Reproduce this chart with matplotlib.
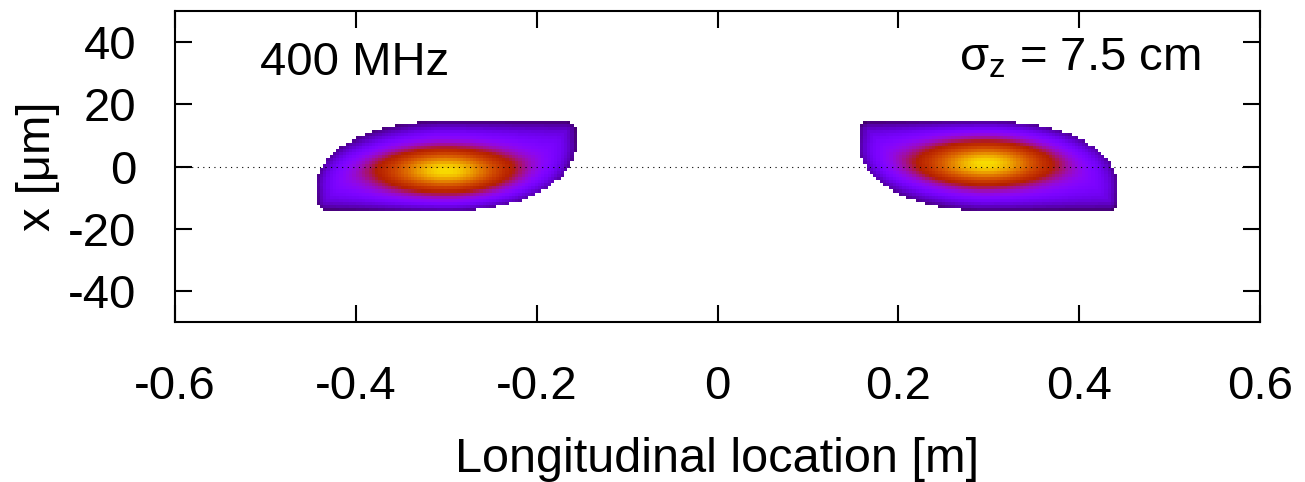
import numpy as np
import matplotlib
matplotlib.use("Agg")
import matplotlib.pyplot as plt

plt.rcParams["font.family"] = ["Liberation Sans", "DejaVu Sans"]
plt.rcParams["mathtext.fontset"] = "custom"
plt.rcParams["mathtext.rm"] = "Liberation Sans"
plt.rcParams["mathtext.it"] = "Liberation Sans"
plt.rcParams["axes.unicode_minus"] = False
plt.rcParams["font.size"] = 34

## bunch parameters (second bunch is the mirror image in z)

bunch_z = [-0.300, 0.300]      # centre of each bunch [m]
bunch_dir = [1, -1]            # orientation along z
core_z = [-0.301, 0.296]       # peak position [m]
core_x = [-1.5, 0.8]           # peak position [um]
core_sig_z = 0.055             # [m]
core_sig_x = 5.2               # [um]
core_amp = 0.72
halo_amp = 0.24
edge_level = 0.07              # density at the cut-off contour

half_len = 0.1437              # [m]
half_wid = 14.3                # [um]
cut_rz = 0.134                 # rounding of the sheared corners [m]
cut_rx = 21.0                  # [um]
corner_r = 3.2                 # small corner rounding [um]
edge_width = 4.2               # [um]

xticks = [-0.6, -0.4, -0.2, 0, 0.2, 0.4, 0.6]
xticklabels = ["-0.6", "-0.4", "-0.2", "0", "0.2", "0.4", "0.6"]
yticks = [-40, -20, 0, 20, 40]
yticklabels = ["-40", "-20", "0", "20", "40"]

## density map

zscale = 291.6   # um per m, so distances are isotropic on the plot
dz, dx = 0.0036, 1.0
zg = np.arange(-0.6, 0.6 + 1e-9, dz)
xg = np.arange(-50.0, 50.0 + 1e-9, dx)
Z, X = np.meshgrid(zg, xg)
density = np.full(Z.shape, np.nan)

for zc, s, cz, cx in zip(bunch_z, bunch_dir, core_z, core_x):
    u = s * (Z - zc) * zscale
    v = X
    a = half_len * zscale
    b = half_wid

    # rounded box
    qx = np.abs(u) - (a - corner_r)
    qy = np.abs(v) - (b - corner_r)
    d = (np.hypot(np.maximum(qx, 0), np.maximum(qy, 0))
         + np.minimum(np.maximum(qx, qy), 0) - corner_r)

    # elliptical cut of the head-low / tail-high corners
    rz = cut_rz * zscale
    widen = np.zeros_like(d)
    for sg in (1, -1):
        px = sg * u - (a - rz)
        py = -sg * v - (b - cut_rx)
        inside = (px > 0) & (py > 0)
        L = np.sqrt((px / rz) ** 2 + (py / cut_rx) ** 2)
        g = np.sqrt((px / rz ** 2) ** 2 + (py / cut_rx ** 2) ** 2) / np.maximum(L, 1e-9)
        d_cut = np.where(inside, (L - 1) / np.maximum(g, 1e-9), -np.inf)
        d = np.maximum(d, d_cut)
        w = np.clip(np.minimum(px / rz, py / cut_rx), 0, 1)
        widen = np.maximum(widen, w)

    ew = edge_width * (1 + 1.5 * widen)
    halo = halo_amp * (1 - (1 - edge_level / halo_amp) * np.exp(np.minimum(d, 0) / ew))
    core = core_amp * np.exp(-0.5 * ((Z - cz) / core_sig_z) ** 2
                             - 0.5 * ((X - cx) / core_sig_x) ** 2)
    density = np.where(d <= 0, halo + core, density)

## plot

fig = plt.figure(figsize=(13.05, 4.82), dpi=100)
ax = fig.add_axes([175 / 1305, 160 / 482, 1085 / 1305, 311 / 482])

cmap = plt.get_cmap("gnuplot").copy()
cmap.set_bad(alpha=0)
ax.imshow(np.ma.masked_invalid(density), cmap=cmap, vmin=0, vmax=1,
          origin="lower", aspect="auto", interpolation="nearest",
          extent=[zg[0] - dz / 2, zg[-1] + dz / 2, xg[0] - dx / 2, xg[-1] + dx / 2])

ax.axhline(0, color="black", lw=0.8, ls=(0, (1, 4)), zorder=3)

ax.set_xlim(-0.6, 0.6)
ax.set_ylim(-50, 50)
ax.set_xticks(xticks)
ax.set_xticklabels(xticklabels)
ax.set_yticks(yticks)
ax.set_yticklabels(yticklabels)
ax.tick_params(direction="in", length=12, width=1.5, top=True, right=True)
ax.tick_params(axis="x", pad=31)
ax.tick_params(axis="y", pad=28)
for sp in ax.spines.values():
    sp.set_linewidth(1.5)

ax.set_xlabel("Longitudinal location [m]", fontsize=35)
ax.set_ylabel("x [\u03bcm]")
ax.xaxis.set_label_coords(0.5, -0.37)
ax.yaxis.set_label_coords(-0.106, 0.5)

ax.text(-0.506, 29.4, "400 MHz", va="baseline", ha="left")
ax.text(0.534, 31.0, r"$\sigma_{\mathrm{z}}$ = 7.5 cm", va="baseline", ha="right")

fig.savefig("out.png", dpi=100)
